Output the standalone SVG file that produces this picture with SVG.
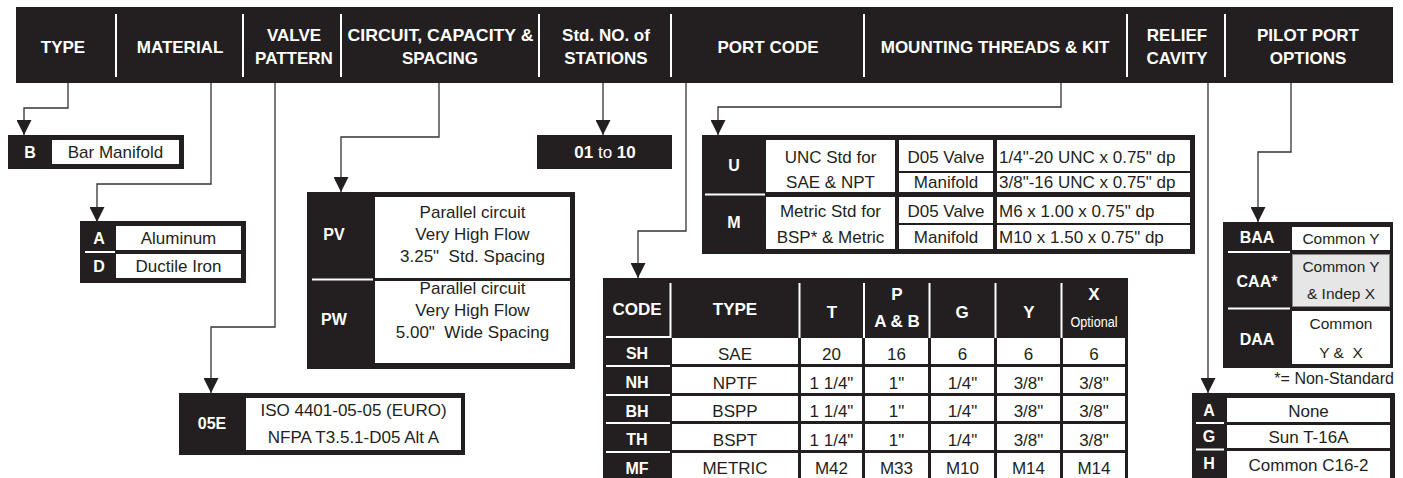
<svg xmlns="http://www.w3.org/2000/svg" width="1403" height="478" viewBox="0 0 1403 478">
<defs>
<marker id="ah" viewBox="0 0 15 15" markerWidth="15" markerHeight="15" refX="15" refY="7.5" orient="auto" markerUnits="userSpaceOnUse"><path d="M0,0 L15,7.5 L0,15 z" fill="#231f20"/></marker>
</defs>
<style>
.dk{fill:#231f20}
.wc{fill:#fff}
.gc{fill:#e6e6e6;stroke:#8a8a8a;stroke-width:1}
.sep{stroke:#fff;stroke-width:2}
.hd{font-family:"Liberation Sans",Arial,sans-serif;font-weight:bold;font-size:17px;fill:#fff;text-anchor:middle}
.cd{font-family:"Liberation Sans",Arial,sans-serif;font-weight:bold;font-size:16px;fill:#fff;text-anchor:middle}
.tx{font-family:"Liberation Sans",Arial,sans-serif;font-size:17px;fill:#231f20;text-anchor:middle}
.tl{font-family:"Liberation Sans",Arial,sans-serif;font-size:17px;fill:#231f20}
.sm{font-family:"Liberation Sans",Arial,sans-serif;font-size:15.5px;fill:#231f20;text-anchor:middle}
.op{font-family:"Liberation Sans",Arial,sans-serif;font-size:14px;fill:#fff;text-anchor:middle}
.pre{white-space:pre}
.cn{fill:none;stroke:#333;stroke-width:1.3;marker-end:url(#ah)}
</style>

<g id="header">
<rect class="dk" x="16" y="7" width="1377" height="76"/>
<g class="sep">
<line x1="116" y1="14" x2="116" y2="77"/><line x1="243" y1="14" x2="243" y2="77"/>
<line x1="341" y1="14" x2="341" y2="77"/><line x1="539" y1="14" x2="539" y2="77"/>
<line x1="671" y1="14" x2="671" y2="77"/><line x1="864" y1="14" x2="864" y2="77"/>
<line x1="1127" y1="14" x2="1127" y2="77"/><line x1="1225" y1="14" x2="1225" y2="77"/>
</g>
<text class="hd" x="63" y="53">TYPE</text>
<text class="hd" x="180" y="53">MATERIAL</text>
<text class="hd" x="294" y="41">VALVE</text><text class="hd" x="294" y="64">PATTERN</text>
<text class="hd" x="440.5" y="41" textLength="186" lengthAdjust="spacingAndGlyphs">CIRCUIT, CAPACITY &amp;</text><text class="hd" x="440" y="64">SPACING</text>
<text class="hd" x="606" y="41">Std. NO. of</text><text class="hd" x="606" y="64">STATIONS</text>
<text class="hd" x="768" y="53">PORT CODE</text>
<text class="hd" x="995" y="53">MOUNTING THREADS &amp; KIT</text>
<text class="hd" x="1177" y="41">RELIEF</text><text class="hd" x="1177" y="64">CAVITY</text>
<text class="hd" x="1308" y="41">PILOT PORT</text><text class="hd" x="1308" y="64">OPTIONS</text>
</g>

<g id="connectors">
<path class="cn" d="M68,83 V108 H24 V135"/>
<path class="cn" d="M211,83 V184 H97 V222"/>
<path class="cn" d="M275,83 V327 H211 V393"/>
<path class="cn" d="M439,83 V137 H341 V192"/>
<path class="cn" d="M603,83 V135"/>
<path class="cn" d="M686,83 V231 H638 V278"/>
<path class="cn" d="M1061,83 V107 H718 V135"/>
<path class="cn" d="M1208,83 V393"/>
<path class="cn" d="M1291,83 V152 H1258 V222"/>
</g>

<g id="type-box">
<rect class="dk" x="8" y="135" width="176" height="34"/>
<rect class="wc" x="52" y="140" width="127" height="24"/>
<text class="cd" x="30" y="158">B</text>
<text class="tx" x="115.5" y="158">Bar Manifold</text>
</g>

<g id="material-box">
<rect class="dk" x="80" y="221" width="166" height="62"/>
<rect class="wc" x="116" y="226" width="125" height="24"/>
<rect class="wc" x="116" y="254" width="125" height="24"/>
<line class="sep" x1="85" y1="252" x2="115" y2="252"/>
<text class="cd" x="99" y="244">A</text>
<text class="cd" x="99" y="272">D</text>
<text class="tx" x="178.5" y="244">Aluminum</text>
<text class="tx" x="178.5" y="272">Ductile Iron</text>
</g>

<g id="valve-box">
<rect class="dk" x="179" y="393" width="286" height="62"/>
<rect class="wc" x="246" y="398" width="215" height="52"/>
<text class="cd" x="212" y="429">05E</text>
<text class="tx" x="353.5" y="416">ISO 4401-05-05 (EURO)</text>
<text class="tx" x="353.5" y="443">NFPA T3.5.1-D05 Alt A</text>
</g>

<g id="circuit-box">
<rect class="dk" x="307" y="192" width="268" height="177"/>
<rect class="wc" x="375" y="197" width="195" height="81"/>
<rect class="wc" x="375" y="281" width="195" height="82"/>
<line class="sep" x1="312" y1="279.5" x2="373" y2="279.5"/>
<text class="cd" x="334" y="240">PV</text>
<text class="cd" x="334" y="325">PW</text>
<text class="tx" x="472.5" y="218">Parallel circuit</text>
<text class="tx" x="472.5" y="240">Very High Flow</text>
<text class="tx pre" x="472.5" y="262">3.25"  Std. Spacing</text>
<text class="tx" x="472.5" y="294">Parallel circuit</text>
<text class="tx" x="472.5" y="316">Very High Flow</text>
<text class="tx pre" x="472.5" y="338">5.00"  Wide Spacing</text>
</g>

<g id="stations-box">
<rect class="dk" x="537" y="135" width="135" height="34"/>
<text class="cd" x="605" y="158" style="font-size:17px"><tspan>01</tspan><tspan font-weight="normal"> to </tspan><tspan>10</tspan></text>
</g>

<g id="mounting-box">
<rect class="dk" x="702" y="135" width="493" height="119"/>
<rect class="wc" x="766" y="140" width="129" height="52"/>
<rect class="wc" x="766" y="197" width="129" height="52"/>
<rect class="wc" x="899" y="140" width="94" height="31"/>
<rect class="wc" x="899" y="173" width="94" height="19"/>
<rect class="wc" x="899" y="197" width="94" height="26"/>
<rect class="wc" x="899" y="225" width="94" height="24"/>
<rect class="wc" x="997" y="140" width="193" height="31"/>
<rect class="wc" x="997" y="173" width="193" height="19"/>
<rect class="wc" x="997" y="197" width="193" height="26"/>
<rect class="wc" x="997" y="225" width="193" height="24"/>
<line class="sep" x1="705" y1="194.5" x2="765" y2="194.5"/>
<text class="cd" x="734" y="171">U</text>
<text class="cd" x="734" y="228">M</text>
<text class="tx" x="830.5" y="163">UNC Std for</text>
<text class="tx" x="830.5" y="188">SAE &amp; NPT</text>
<text class="tx" x="830.5" y="217">Metric Std for</text>
<text class="tx" x="830.5" y="243">BSP* &amp; Metric</text>
<text class="tx" x="946" y="163">D05 Valve</text>
<text class="tx" x="946" y="188">Manifold</text>
<text class="tx" x="946" y="217">D05 Valve</text>
<text class="tx" x="946" y="243">Manifold</text>
<text class="tl" x="999" y="163">1/4"-20 UNC x 0.75" dp</text>
<text class="tl" x="999" y="188">3/8"-16 UNC x 0.75" dp</text>
<text class="tl" x="999" y="217">M6 x 1.00 x 0.75" dp</text>
<text class="tl" x="999" y="243">M10 x 1.50 x 0.75" dp</text>
</g>

<g id="port-table">
<rect class="dk" x="603" y="278" width="525" height="210"/>
<g class="sep">
<line x1="670.5" y1="283" x2="670.5" y2="338"/><line x1="799.5" y1="283" x2="799.5" y2="338"/>
<line x1="864" y1="283" x2="864" y2="338"/><line x1="929.5" y1="283" x2="929.5" y2="338"/>
<line x1="995.5" y1="283" x2="995.5" y2="338"/><line x1="1061.5" y1="283" x2="1061.5" y2="338"/>
<line x1="606" y1="337" x2="671" y2="337"/>
<line x1="606" y1="366" x2="670" y2="366"/><line x1="606" y1="395" x2="670" y2="395"/>
<line x1="606" y1="423" x2="670" y2="423"/><line x1="606" y1="452" x2="670" y2="452"/>
</g>
<text class="hd" x="637" y="315">CODE</text>
<text class="hd" x="735" y="315">TYPE</text>
<text class="hd" x="832" y="318">T</text>
<text class="hd" x="897" y="300">P</text><text class="hd" x="897" y="327">A &amp; B</text>
<text class="hd" x="962" y="318">G</text>
<text class="hd" x="1029" y="318">Y</text>
<text class="hd" x="1094" y="300">X</text><text class="op" x="1094" y="327" textLength="47" lengthAdjust="spacingAndGlyphs">Optional</text>
<g class="wc">
<rect x="672" y="338" width="126" height="26"/><rect x="801" y="338" width="61" height="26"/><rect x="865" y="338" width="63" height="26"/><rect x="931" y="338" width="63" height="26"/><rect x="997" y="338" width="63" height="26"/><rect x="1063" y="338" width="62" height="26"/>
<rect x="672" y="367" width="126" height="26"/><rect x="801" y="367" width="61" height="26"/><rect x="865" y="367" width="63" height="26"/><rect x="931" y="367" width="63" height="26"/><rect x="997" y="367" width="63" height="26"/><rect x="1063" y="367" width="62" height="26"/>
<rect x="672" y="396" width="126" height="25"/><rect x="801" y="396" width="61" height="25"/><rect x="865" y="396" width="63" height="25"/><rect x="931" y="396" width="63" height="25"/><rect x="997" y="396" width="63" height="25"/><rect x="1063" y="396" width="62" height="25"/>
<rect x="672" y="424" width="126" height="26"/><rect x="801" y="424" width="61" height="26"/><rect x="865" y="424" width="63" height="26"/><rect x="931" y="424" width="63" height="26"/><rect x="997" y="424" width="63" height="26"/><rect x="1063" y="424" width="62" height="26"/>
<rect x="672" y="453" width="126" height="30"/><rect x="801" y="453" width="61" height="30"/><rect x="865" y="453" width="63" height="30"/><rect x="931" y="453" width="63" height="30"/><rect x="997" y="453" width="63" height="30"/><rect x="1063" y="453" width="62" height="30"/>
</g>
<text class="cd" x="637" y="359">SH</text><text class="cd" x="637" y="388">NH</text><text class="cd" x="637" y="417">BH</text><text class="cd" x="637" y="445">TH</text><text class="cd" x="637" y="474">MF</text>
<text class="tx" x="735" y="359.5">SAE</text><text class="tx" x="831.5" y="359.5">20</text><text class="tx" x="896.5" y="359.5">16</text><text class="tx" x="962.5" y="359.5">6</text><text class="tx" x="1028.5" y="359.5">6</text><text class="tx" x="1094" y="359.5">6</text>
<text class="tx" x="735" y="388.5">NPTF</text><text class="tx" x="831.5" y="388.5">1 1/4"</text><text class="tx" x="896.5" y="388.5">1"</text><text class="tx" x="962.5" y="388.5">1/4"</text><text class="tx" x="1028.5" y="388.5">3/8"</text><text class="tx" x="1094" y="388.5">3/8"</text>
<text class="tx" x="735" y="417">BSPP</text><text class="tx" x="831.5" y="417">1 1/4"</text><text class="tx" x="896.5" y="417">1"</text><text class="tx" x="962.5" y="417">1/4"</text><text class="tx" x="1028.5" y="417">3/8"</text><text class="tx" x="1094" y="417">3/8"</text>
<text class="tx" x="735" y="445.5">BSPT</text><text class="tx" x="831.5" y="445.5">1 1/4"</text><text class="tx" x="896.5" y="445.5">1"</text><text class="tx" x="962.5" y="445.5">1/4"</text><text class="tx" x="1028.5" y="445.5">3/8"</text><text class="tx" x="1094" y="445.5">3/8"</text>
<text class="tx" x="735" y="474">METRIC</text><text class="tx" x="831.5" y="474">M42</text><text class="tx" x="896.5" y="474">M33</text><text class="tx" x="962.5" y="474">M10</text><text class="tx" x="1028.5" y="474">M14</text><text class="tx" x="1094" y="474">M14</text>
</g>

<g id="pilot-box">
<rect class="dk" x="1223" y="222" width="170" height="146"/>
<rect class="wc" x="1292" y="227" width="98" height="23"/>
<rect class="gc" x="1292.5" y="254.5" width="97" height="52"/>
<rect class="wc" x="1292" y="311" width="98" height="53"/>
<line class="sep" x1="1228" y1="252" x2="1290" y2="252"/>
<line class="sep" x1="1228" y1="308.5" x2="1290" y2="308.5"/>
<text class="cd" x="1257" y="243">BAA</text>
<text class="cd" x="1257" y="287">CAA*</text>
<text class="cd" x="1257" y="345">DAA</text>
<text class="sm" x="1341" y="244">Common Y</text>
<text class="sm" x="1341" y="272">Common Y</text>
<text class="sm" x="1341" y="299">&amp; Indep X</text>
<text class="sm" x="1341" y="329">Common</text>
<text class="sm pre" x="1341" y="358">Y &amp;  X</text>
<text class="tl" x="1394" y="384" text-anchor="end" style="font-size:16px">*= Non-Standard</text>
</g>

<g id="relief-box">
<rect class="dk" x="1192" y="393" width="203" height="90"/>
<rect class="wc" x="1227" y="398" width="163" height="24"/>
<rect class="wc" x="1227" y="425" width="163" height="23"/>
<rect class="wc" x="1227" y="451" width="163" height="32"/>
<line class="sep" x1="1196" y1="423" x2="1224" y2="423"/>
<line class="sep" x1="1196" y1="449.5" x2="1224" y2="449.5"/>
<text class="cd" x="1209" y="416">A</text>
<text class="cd" x="1209" y="442">G</text>
<text class="cd" x="1209" y="469">H</text>
<text class="tx" x="1308.5" y="417">None</text>
<text class="tx" x="1308.5" y="443">Sun T-16A</text>
<text class="tx" x="1308.5" y="471">Common C16-2</text>
</g>
</svg>
